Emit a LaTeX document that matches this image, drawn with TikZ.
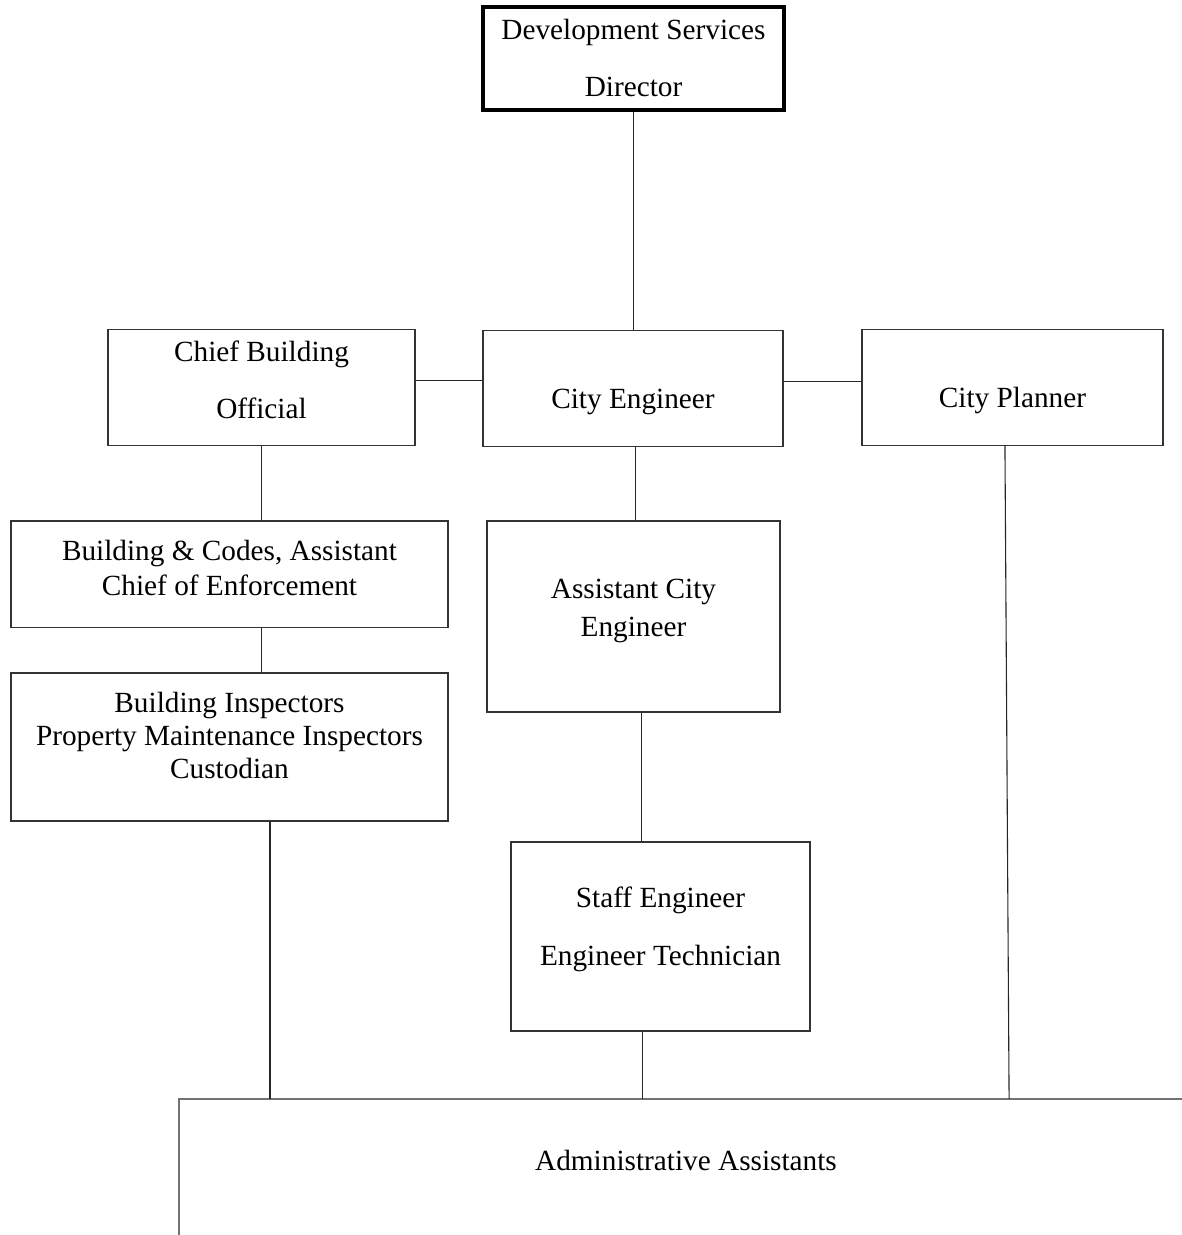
\documentclass[tikz,border=0pt]{standalone}
\usepackage{fontspec}
\setmainfont{Liberation Serif}
\usetikzlibrary{positioning,calc}

% lift the text inside a box, keeping the box size
\newcommand{\boxtext}[2]{\raisebox{#1}[\height][\depth]{\begin{tabular}{@{}c@{}}#2\end{tabular}}}

\begin{document}
\begin{tikzpicture}[x=0.41pt, y=-0.41pt,
	font=\fontsize{12}{14.5}\selectfont,
	main/.style={rectangle, text centered, inner sep=0pt, draw=black!80, line width=0.45pt},
	head/.style={main, draw=black, line width=1.3pt},
	link/.style={draw=black!85, line width=0.45pt},
	adminline/.style={draw=black!55, line width=0.7pt}
	]
	\useasboundingbox (0,0) rectangle (1182,1235);

	\node (director) [head, minimum width=123.4pt, minimum height=42.2pt] at (633.5,58.5) {\boxtext{-1pt}{Development Services\\[9pt]Director}};

		\node (chief) [main, minimum width=125.9pt, minimum height=47.2pt] at (261.5,387.5) {\boxtext{1.9pt}{Chief Building\\[9pt]Official}};
		\node (cityeng) [main, minimum width=123pt, minimum height=47.2pt] at (633,388.5) {\boxtext{-5.3pt}{City Engineer}};
		\node (planner) [main, minimum width=123.4pt, minimum height=47.2pt] at (1012.5,387.5) {\boxtext{-5.3pt}{City Planner}};

			\node (codes) [main, minimum width=179.2pt, minimum height=43.5pt] at (229.5,574) {\boxtext{1.3pt}{Building \& Codes, Assistant\\Chief of Enforcement}};
			\node (inspectors) [main, font=\fontsize{12}{13.5}\selectfont, minimum width=179.2pt, minimum height=60.7pt] at (229.5,747) {\boxtext{3.3pt}{Building Inspectors\\Property Maintenance Inspectors\\Custodian}};

			\node (asst) [main, minimum width=120.1pt, minimum height=78.3pt] at (633.5,616.5) {\boxtext{2.5pt}{Assistant City\\[1pt]Engineer}};
			\node (staff) [main, minimum width=122.6pt, minimum height=77.5pt] at (660.5,936.5) {\boxtext{2.9pt}{Staff Engineer\\[9pt]Engineer Technician}};

	\coordinate (admin) at (179,1099);
	\coordinate (adminright) at (1182,1099);
	\coordinate (adminbottom) at (179,1235);
	\node (assistants) at (686,1160) {Administrative Assistants};

	\draw [adminline] (adminright) -- (admin) -- (adminbottom);

	\draw [link] (director.south) -- (director.south |- cityeng.north);
	\draw [link] ([yshift=2.7pt]chief.east) -- ([yshift=2.7pt]chief.east -| cityeng.west);
	\draw [link] ([yshift=2.7pt]cityeng.east) -- ([yshift=2.7pt]cityeng.east -| planner.west);

	\draw [link] (chief.south) -- (chief.south |- codes.north);
	\draw [link] (codes.south -| chief.south) -- (chief.south |- inspectors.north);
	\draw [link] ([xshift=1.2pt]cityeng.south) -- ([xshift=1.2pt]cityeng.south |- asst.north);
	\draw [link] ([xshift=3.1pt]asst.south) -- ([xshift=3.1pt]asst.south |- staff.north);

	\draw [link] ([xshift=16.6pt]inspectors.south) -- ([xshift=16.6pt]inspectors.south |- admin);
	\draw [link] ([xshift=-7.2pt]staff.south) -- ([xshift=-7.2pt]staff.south |- admin);
	\draw [link] ([xshift=-3.1pt]planner.south) -- ([xshift=-1.4pt]planner.south |- admin);

	\end{tikzpicture}
\end{document}
